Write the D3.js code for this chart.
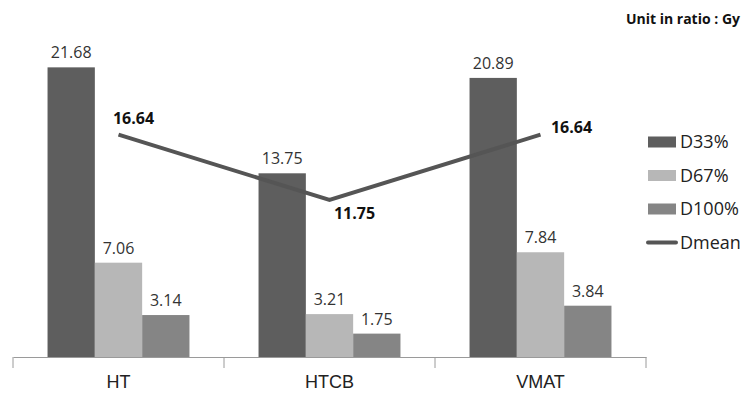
<!DOCTYPE html>
<html>
<head>
<meta charset="utf-8">
<script src="https://cdn.jsdelivr.net/npm/d3@7"></script>
<style>
  html, body { margin: 0; padding: 0; background: #fff; }
  svg { display: block; font-family: "Open Sans", sans-serif; }
</style>
</head>
<body>
<svg id="chart" width="750" height="397"></svg>
<script>
// Dose summary per technique
const categories = ["HT", "HTCB", "VMAT"];
const barSeries = ["D33%", "D67%", "D100%"];
const d33 = [21.68, 13.75, 20.89];
const d67 = [7.06, 3.21, 7.84];
const d100 = [3.14, 1.75, 3.84];
const dmean = [16.64, 11.75, 16.64];
const lineSeries = "Dmean";
const unitNote = "Unit in ratio : Gy";

const barValues = [d33, d67, d100];
const barColors = ["#5e5e5e", "#b7b7b7", "#858585"];
const lineColor = "#555555";

const svg = d3.select("#chart");
const margin = { left: 13, right: 104, top: 23, bottom: 40 };
const W = 750, H = 397;

const x = d3.scaleBand().domain(categories).range([margin.left, W - margin.right]).paddingInner(0).paddingOuter(0);
const xInner = d3.scaleBand().domain(barSeries).range([0, x.bandwidth()]).paddingOuter(0.73).paddingInner(0);
const y = d3.scaleLinear().domain([0, 25]).range([H - margin.bottom, H - margin.bottom - 25 * 13.36]);

// Bars
const groups = svg.append("g").selectAll("g")
  .data(categories).join("g")
  .attr("transform", c => `translate(${x(c)},0)`);

groups.each(function (c, ci) {
  const g = d3.select(this);
  barSeries.forEach((s, si) => {
    const v = barValues[si][ci];
    g.append("rect")
      .attr("x", xInner(s))
      .attr("y", y(v))
      .attr("width", xInner.bandwidth())
      .attr("height", y(0) - y(v))
      .attr("fill", barColors[si]);
    g.append("text")
      .attr("x", xInner(s) + xInner.bandwidth() / 2)
      .attr("y", y(v) - 9)
      .attr("text-anchor", "middle")
      .attr("font-size", 16)
      .attr("fill", "#333")
      .text(v.toFixed(2));
  });
});

// Category axis
const axis = svg.append("g").attr("transform", `translate(0,${y(0)})`)
  .call(d3.axisBottom(x).tickSize(0).tickPadding(18));
axis.select(".domain").attr("stroke", "#9a9a9a");
axis.selectAll(".tick text").attr("font-size", 18).attr("fill", "#222");
const edges = categories.map(c => x(c)).concat([x(categories[categories.length - 1]) + x.bandwidth()]);
axis.selectAll("line.edge").data(edges).join("line")
  .attr("class", "edge")
  .attr("x1", d => d).attr("x2", d => d)
  .attr("y1", 0).attr("y2", 11)
  .attr("stroke", "#9a9a9a");

// Mean line
const cx = c => x(c) + x.bandwidth() / 2;
const line = d3.line().x((d, i) => cx(categories[i])).y(d => y(d));
svg.append("path")
  .datum(dmean)
  .attr("d", line)
  .attr("fill", "none")
  .attr("stroke", lineColor)
  .attr("stroke-width", 4);

const meanLabelOffset = [[15, -11], [25, 19], [31, -2]];
svg.append("g").selectAll("text")
  .data(dmean).join("text")
  .attr("x", (d, i) => cx(categories[i]) + meanLabelOffset[i][0])
  .attr("y", (d, i) => y(d) + meanLabelOffset[i][1])
  .attr("text-anchor", "middle")
  .attr("font-size", 16)
  .attr("font-weight", "bold")
  .attr("fill", "#111")
  .text(d => d.toFixed(2));

// Legend
const legend = svg.append("g").attr("transform", "translate(648,142)");
barSeries.forEach((s, i) => {
  const ly = i * 33.5;
  legend.append("rect").attr("x", 0).attr("y", ly - 5.5).attr("width", 28).attr("height", 11).attr("fill", barColors[i]);
  legend.append("text").attr("x", 32).attr("y", ly + 6).attr("font-size", 18).attr("fill", "#222").text(s);
});
const ll = 3 * 33.5;
legend.append("line").attr("x1", 0).attr("x2", 28).attr("y1", ll).attr("y2", ll)
  .attr("stroke", lineColor).attr("stroke-width", 4).attr("stroke-linecap", "round");
legend.append("text").attr("x", 32).attr("y", ll + 6).attr("font-size", 18).attr("fill", "#222").text(lineSeries);

// Unit note
svg.append("text")
  .attr("x", 740).attr("y", 24)
  .attr("text-anchor", "end")
  .attr("font-size", 14)
  .attr("font-weight", "bold")
  .attr("fill", "#111")
  .text(unitNote);
</script>
</body>
</html>
